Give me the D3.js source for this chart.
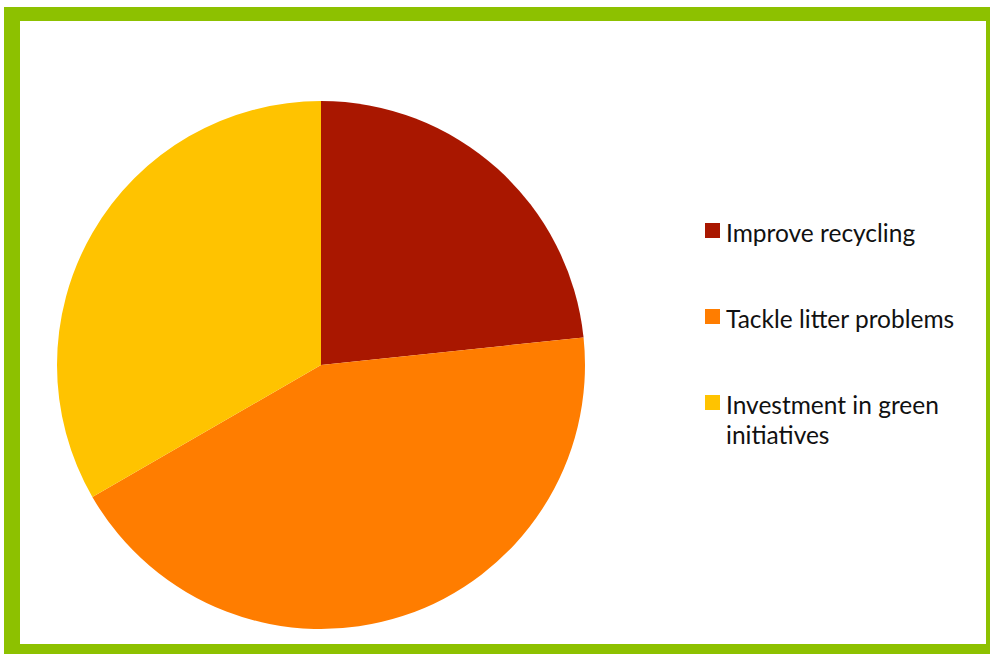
<!DOCTYPE html>
<html>
<head>
<meta charset="utf-8">
<script src="https://cdn.jsdelivr.net/npm/d3@7"></script>
<style>
  html, body { margin: 0; padding: 0; background: #ffffff; }
  svg { display: block; }
</style>
</head>
<body>
<div id="chart"></div>
<script>
// Survey priorities shown as pie slices
const categories = ["Improve recycling", "Tackle litter problems", "Investment in green initiatives"];
const values = [7, 13, 10];
const colors = ["#a91700", "#ff7d00", "#ffc300"];
// Legend labels split into lines
const legendLines = [["Improve recycling"], ["Tackle litter problems"], ["Investment in green", "initiatives"]];

const width = 990, height = 654;
const svg = d3.select("#chart").append("svg")
  .attr("width", width).attr("height", height);

// Green frame around the chart area
svg.append("path")
  .attr("fill-rule", "evenodd")
  .attr("fill", "#8dc100")
  .attr("d", "M4,7H1004V662H4Z M20,21V644H986V21Z");

const cx = 321, cy = 365, radius = 264;

const data = categories.map((c, i) => ({ name: c, value: values[i], color: colors[i] }));
const pie = d3.pie().value(d => d.value).sort(null);
const arc = d3.arc().innerRadius(0).outerRadius(radius);

svg.append("g")
  .attr("transform", `translate(${cx},${cy})`)
  .selectAll("path")
  .data(pie(data))
  .join("path")
  .attr("d", arc)
  .attr("fill", d => d.data.color);

// Legend
const legendX = 705, legendTop = 223, legendStep = 86;
const legend = svg.append("g");
data.forEach((d, i) => {
  const y = legendTop + i * legendStep;
  legend.append("rect")
    .attr("x", legendX).attr("y", y)
    .attr("width", 15).attr("height", 15)
    .attr("fill", d.color);
  const t = legend.append("text")
    .attr("x", legendX + 21)
    .attr("y", y + 19)
    .attr("font-family", "Lato, 'Open Sans', sans-serif")
    .attr("font-size", 24.5)
    .attr("fill", "#111111");
  legendLines[i].forEach((line, j) => {
    t.append("tspan")
      .attr("x", legendX + 21)
      .attr("dy", j === 0 ? 0 : 30)
      .text(line);
  });
});
</script>
</body>
</html>
